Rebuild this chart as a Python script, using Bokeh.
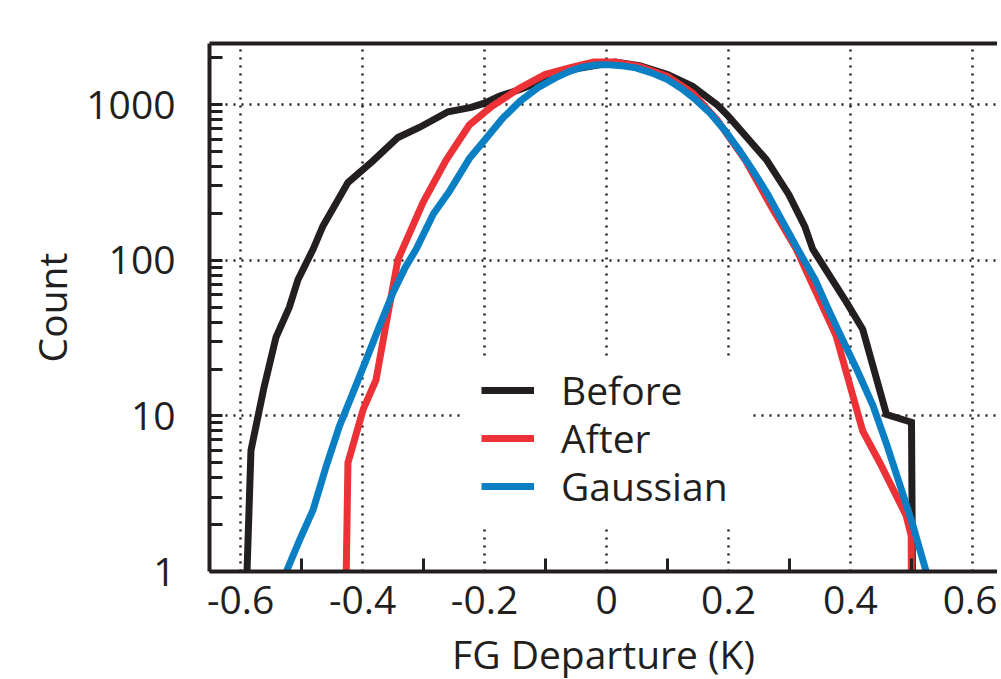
from bokeh.plotting import figure
from bokeh.models import Range1d, FixedTicker, LinearAxis, Legend, LegendItem, BoxAnnotation
from bokeh.embed import file_html
from bokeh.resources import INLINE

# ---------------- data ----------------
before_x = [-0.592, -0.583, -0.562, -0.542, -0.520, -0.506, -0.481, -0.465, -0.424,
            -0.383, -0.342, -0.307, -0.260, -0.222, -0.199, -0.176, -0.142, -0.100,
            -0.050, 0.014, 0.054, 0.100, 0.141, 0.181, 0.200, 0.262, 0.299, 0.325,
            0.338, 0.393, 0.420, 0.459, 0.500, 0.502]
before_y = [0.5, 6, 15, 32, 50, 75, 118, 166, 316,
            435, 615, 713, 900, 960, 1025, 1130, 1250, 1450,
            1700, 1880, 1782, 1560, 1312, 1000, 840, 443, 264, 165,
            118, 54, 36, 10.2, 9.1, 0.5]

after_x = [-0.428, -0.424, -0.399, -0.378, -0.362, -0.342, -0.301, -0.263, -0.225,
           -0.188, -0.142, -0.101, -0.061, -0.021, 0.014, 0.054, 0.100, 0.141,
           0.181, 0.227, 0.273, 0.311, 0.376, 0.420, 0.448, 0.491, 0.4995, 0.500]
after_y = [0.5, 5, 11, 17, 38, 101, 235, 440, 740,
           975, 1280, 1560, 1720, 1880, 1880, 1760, 1520, 1190,
           800, 443, 211, 118, 33, 8, 5, 2.3, 1.7, 0.5]

gauss_x = [-0.525, -0.503, -0.481, -0.460, -0.438, -0.416, -0.394, -0.372, -0.350,
           -0.330, -0.312, -0.284, -0.257, -0.225, -0.199, -0.170, -0.142, -0.112,
           -0.084, -0.060, -0.038, -0.018, 0.000, 0.024, 0.048, 0.074, 0.100, 0.123,
           0.146, 0.170, 0.193, 0.216, 0.239, 0.265, 0.290, 0.316, 0.342, 0.362,
           0.382, 0.410, 0.437, 0.459, 0.480, 0.502, 0.524]
gauss_y = [1.0, 1.6, 2.5, 4.7, 8.6, 14, 23, 38, 62,
           90, 118, 198, 280, 450, 596, 820, 1050, 1290,
           1484, 1640, 1746, 1795, 1807, 1780, 1722, 1600, 1448, 1270,
           1077, 880, 690, 520, 382, 262, 173, 113, 75, 50,
           34, 20, 11.6, 6.6, 3.7, 2.0, 1.0]

series_names = ["Before", "After", "Gaussian"]

x_tick_values = [-0.6, -0.4, -0.2, 0, 0.2, 0.4, 0.6]
x_tick_labels = ["-0.6", "-0.4", "-0.2", "0", "0.2", "0.4", "0.6"]
x_minor_values = [-0.5, -0.3, -0.1, 0.1, 0.3, 0.5]
y_tick_values = [1, 10, 100, 1000]
y_tick_labels = ["1", "10", "100", "1000"]
y_minor_values = [2, 3, 4, 5, 6, 7, 8, 9,
                  20, 30, 40, 50, 60, 70, 80, 90,
                  200, 300, 400, 500, 600, 700, 800, 900, 2000]

# ---------------- style ----------------
INK = "#231f20"
RED = "#ed3237"
BLUE = "#0a7fc4"
FONT = "Open Sans"
FS = "39px"

p = figure(frame_width=788, frame_height=528,
           x_range=Range1d(-0.651, 0.641), y_range=Range1d(1, 2470),
           y_axis_type="log", output_backend="svg", toolbar_location=None,
           min_border_left=209, min_border_top=43, min_border_right=0,
           min_border_bottom=0, outline_line_color=None,
           background_fill_color="white", border_fill_color="white")

# grids
for g in (p.xgrid, p.ygrid):
    g.grid_line_color = INK
    g.grid_line_width = 2.5
    g.grid_line_dash = "2 6"
    g.grid_line_alpha = 1.0

xa = p.xaxis[0]
xa.ticker = FixedTicker(ticks=x_tick_values, minor_ticks=x_minor_values)
xa.major_label_overrides = dict(zip(x_tick_values, x_tick_labels))
ya = p.yaxis[0]
ya.ticker = FixedTicker(ticks=y_tick_values, minor_ticks=y_minor_values)
ya.major_label_overrides = dict(zip(y_tick_values, y_tick_labels))

for ax in (xa, ya):
    ax.axis_line_color = INK
    ax.axis_line_width = 4
    ax.major_tick_line_color = INK
    ax.minor_tick_line_color = INK
    ax.major_tick_line_width = 3
    ax.minor_tick_line_width = 3
    ax.major_tick_out = 0
    ax.minor_tick_out = 0
    ax.minor_tick_in = 13
    ax.major_label_text_font = FONT
    ax.major_label_text_font_size = FS
    ax.major_label_text_color = INK
    ax.axis_label_text_font = FONT
    ax.axis_label_text_font_size = FS
    ax.axis_label_text_font_style = "normal"
    ax.axis_label_text_color = INK

xa.major_tick_in = 0
xa.major_label_standoff = 14
xa.axis_label = "FG Departure (K)"
xa.axis_label_standoff = 10
ya.major_tick_in = 13
ya.major_label_standoff = 34
ya.axis_label = "Count"
ya.axis_label_standoff = 5

top = LinearAxis(ticker=FixedTicker(ticks=[]), axis_line_color=INK, axis_line_width=4,
                 major_tick_in=0, major_tick_out=0, minor_tick_in=0, minor_tick_out=0,
                 major_label_text_font_size="0px")
p.add_layout(top, "above")

# white panel behind the legend (hides the grid there)
p.add_layout(BoxAnnotation(left=-0.238, right=0.234, bottom=2.0, top=23.1,
                           fill_color="white", fill_alpha=1.0, line_color=None,
                           level="underlay"))

# curves
r1 = p.line(before_x, before_y, line_color=INK, line_width=7, line_join="miter")
r2 = p.line(after_x, after_y, line_color=RED, line_width=7, line_join="miter")
r3 = p.line(gauss_x, gauss_y, line_color=BLUE, line_width=7, line_join="round")

renderers = [r1, r2, r3]
legend_offsets = [155, 107, 59]
for name, rr, oy in zip(series_names, renderers, legend_offsets):
    lg = Legend(items=[LegendItem(label=name, renderers=[rr])],
                location=(272, oy), orientation="vertical",
                background_fill_alpha=0.0, border_line_color=None,
                label_text_font=FONT, label_text_font_size=FS,
                label_text_color=INK, glyph_width=53, glyph_height=30,
                label_height=30, label_standoff=27, padding=12, spacing=0,
                margin=0)
    p.add_layout(lg)

open("out.html", "w").write(file_html(p, INLINE))
